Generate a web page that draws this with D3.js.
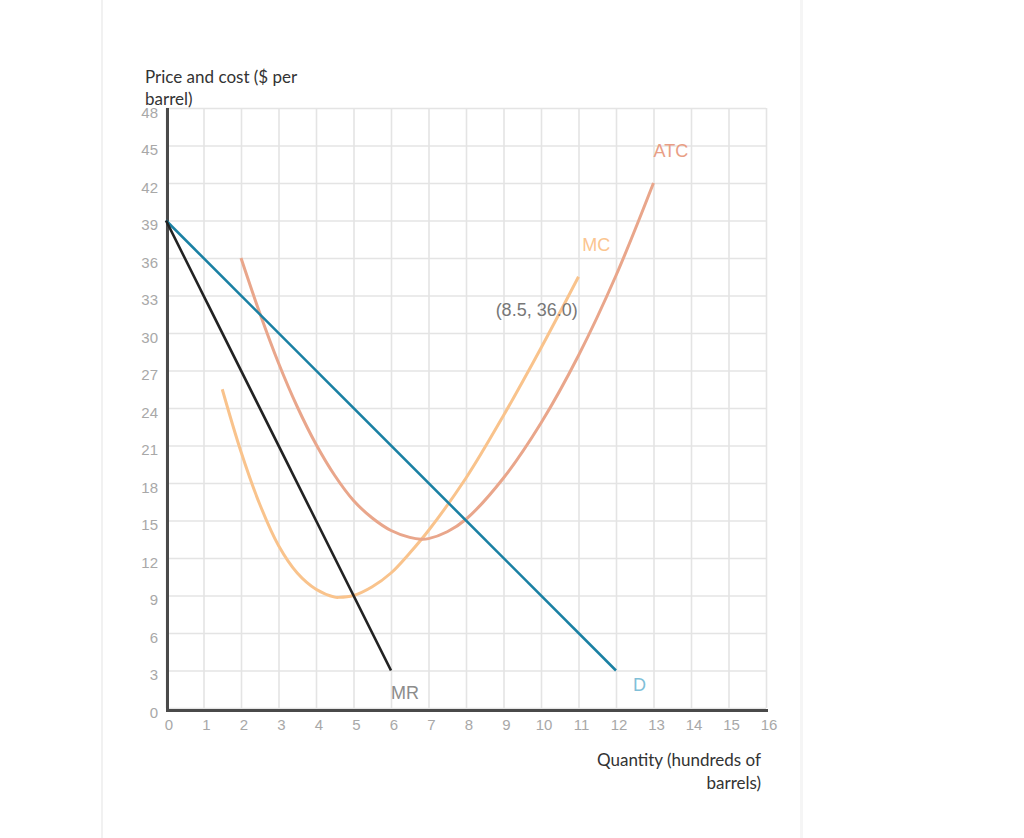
<!DOCTYPE html>
<html>
<head>
<meta charset="utf-8">
<script src="https://cdn.jsdelivr.net/npm/d3@7"></script>
<style>
  html, body { margin: 0; padding: 0; background: #fff; }
  svg { display: block; }
</style>
</head>
<body>
<svg id="chart" width="1024" height="838"></svg>
<script>
// ---- data ----
const xTicks = [0,1,2,3,4,5,6,7,8,9,10,11,12,13,14,15,16];
const yTicks = [0,3,6,9,12,15,18,21,24,27,30,33,36,39,42,45,48];

const demand = [[0,39],[12,3]];
const marginalRevenue = [[0,39],[6,3]];
const marginalCost = [
  [1.5,25.5],[2,20.5],[2.5,16.3],[3,13.0],[3.5,10.8],[4,9.5],[4.5,8.87],[4.6,8.85],
  [5,9.0],[5.5,9.7],[6,10.8],[6.5,12.4],[7,14.2],[8,18.4],[9,23.4],[10,28.8],[11,34.5]
];
const averageTotalCost = [
  [2,36],[2.5,31.6],[3,27.6],[3.5,24.1],[4,21.1],[4.5,18.6],[5,16.6],[5.5,15.2],
  [6,14.2],[6.5,13.65],[6.8,13.5],[7,13.55],[7.5,14.1],[8,15.1],[9,18.4],[10,22.8],
  [11,28.2],[12,34.6],[13,42]
];
const curveLabels = ["ATC","MC","MR","D"];
const annotationText = "(8.5, 36.0)";
const yTitle = ["Price and cost ($ per","barrel)"];
const xTitle = ["Quantity (hundreds of","barrels)"];

// ---- layout ----
const svg = d3.select("#chart");
const x = d3.scaleLinear().domain([0,16]).range([166,766]);
const y = d3.scaleLinear().domain([0,48]).range([708,108]);

// card edges
svg.append("rect").attr("x",101).attr("y",0).attr("width",2).attr("height",838).attr("fill","#f1f1f1");
svg.append("rect").attr("x",800).attr("y",0).attr("width",3).attr("height",838).attr("fill","#f5f5f5");

const tickFont = "'Liberation Sans', Arial, Helvetica, sans-serif";

// y axis with grid
const gy = svg.append("g").attr("transform",`translate(${x(0)},0)`)
  .call(d3.axisLeft(y).tickValues(yTicks).tickSize(-(x(16)-x(0))).tickPadding(8).tickFormat(d3.format("d")));
gy.select(".domain").remove();
gy.selectAll(".tick line").attr("stroke","#e4e4e4").attr("stroke-width",1.6);
gy.selectAll(".tick text").attr("fill","#a8a8a8").attr("font-size",15).attr("font-family",tickFont).attr("y",4.5);

// x axis with grid
const gx = svg.append("g").attr("transform",`translate(0,${y(0)})`)
  .call(d3.axisBottom(x).tickValues(xTicks).tickSize(-(y(0)-y(48))).tickPadding(11).tickFormat(d3.format("d")));
gx.select(".domain").remove();
gx.selectAll(".tick line").attr("stroke","#e4e4e4").attr("stroke-width",1.6);
gx.selectAll(".tick text").attr("fill","#a8a8a8").attr("font-size",15).attr("font-family",tickFont).attr("x",2.5);

// axis lines
svg.append("line").attr("x1",x(0)+1.5).attr("x2",x(0)+1.5).attr("y1",y(48)).attr("y2",y(0)+4)
  .attr("stroke","#4a4a4a").attr("stroke-width",3);
svg.append("line").attr("x1",x(0)).attr("x2",x(16)+2).attr("y1",y(0)+2.5).attr("y2",y(0)+2.5)
  .attr("stroke","#4a4a4a").attr("stroke-width",3);

// curves
const line = d3.line().x(d=>x(d[0])).y(d=>y(d[1])).curve(d3.curveCatmullRom.alpha(0.5));
const straight = d3.line().x(d=>x(d[0])).y(d=>y(d[1]));

svg.append("path").datum(marginalCost).attr("d",line)
  .attr("fill","none").attr("stroke","#f9c38c").attr("stroke-width",3).attr("stroke-linecap","butt");
svg.append("path").datum(averageTotalCost).attr("d",line)
  .attr("fill","none").attr("stroke","#e9a68b").attr("stroke-width",3).attr("stroke-linecap","butt");
svg.append("path").datum(demand).attr("d",straight)
  .attr("fill","none").attr("stroke","#1a80a3").attr("stroke-width",2.6);
svg.append("path").datum(marginalRevenue).attr("d",straight)
  .attr("fill","none").attr("stroke","#222222").attr("stroke-width",2.6);

// curve labels
const labelFont = "'Liberation Sans', Arial, Helvetica, sans-serif";
const labelPos = [[13,44.1],[11.1,36.55],[6,0.72],[12.45,1.36]];
const labelColors = ["#e99e85","#fbc590","#8c8c8c","#80bfd8"];
svg.selectAll("text.curve-label").data(curveLabels).enter().append("text")
  .attr("class","curve-label")
  .attr("x",(d,i)=>x(labelPos[i][0]))
  .attr("y",(d,i)=>y(labelPos[i][1]))
  .attr("fill",(d,i)=>labelColors[i])
  .attr("font-family",labelFont).attr("font-size",18)
  .text(d=>d);

svg.append("text").attr("x",x(8.79)).attr("y",y(31.4))
  .attr("fill","#777").attr("font-family",labelFont).attr("font-size",18)
  .text(annotationText);

// axis titles
const titleFont = "Lato, 'Open Sans', sans-serif";
svg.append("text").attr("font-family",titleFont).attr("font-size",17).attr("fill","#333")
  .selectAll("tspan").data(yTitle).enter().append("tspan")
  .attr("x",145).attr("y",(d,i)=>83+i*22).text(d=>d);
svg.append("text").attr("font-family",titleFont).attr("font-size",17).attr("fill","#333")
  .attr("text-anchor","end")
  .selectAll("tspan").data(xTitle).enter().append("tspan")
  .attr("x",761).attr("y",(d,i)=>766+i*22.5).text(d=>d);
</script>
</body>
</html>
